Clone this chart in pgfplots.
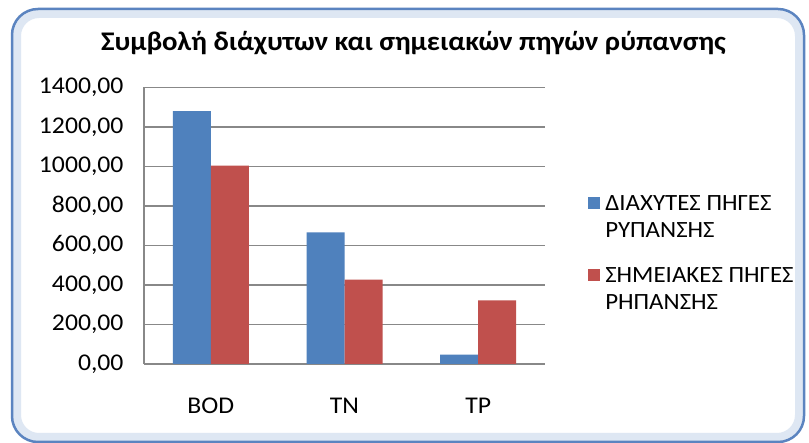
\documentclass[border=0pt]{standalone}
\usepackage{fontspec}
\setmainfont{Carlito}[FakeStretch=1.07]
\usepackage{pgfplots}
\pgfplotsset{compat=1.18}
\definecolor{barblue}{HTML}{4F81BD}
\definecolor{barred}{HTML}{C0504D}
\definecolor{gridgray}{HTML}{888888}
\definecolor{frameblue}{HTML}{5B84C0}

\begin{document}
\begin{tikzpicture}
\useasboundingbox (0,0) rectangle (809bp,443bp);
\fill[white] (0,0) rectangle (809bp,443bp);
% chart frame with a soft inner shadow
\draw[frameblue!20, line width=8bp, rounded corners=22bp] (17bp,6bp) rectangle (799bp,429bp);
\draw[frameblue, line width=2.5bp, rounded corners=26bp] (12bp,1bp) rectangle (804bp,434bp);
\begin{axis}[
  at={(144bp,79bp)}, anchor=south west,
  scale only axis, width=401bp, height=276.7bp,
  ybar=0pt, bar width=38bp,
  xmin=-0.5, xmax=2.5, ymin=0, ymax=1400,
  xtick=data, xticklabels={BOD,TN,TP},
  ytick={0,200,...,1400},
  major tick length=0pt,
  axis x line*=bottom, axis y line*=left,
  axis line style={gridgray, line width=2bp, -},
  ymajorgrids, grid style={gridgray, line width=1.4bp},
  yticklabel={\pgfmathprintnumber[fixed,fixed zerofill,precision=2,use comma,1000 sep={},assume math mode=true]{\tick}},
  tick label style={font=\fontsize{24bp}{28bp}\selectfont},
  yticklabel style={xshift=-17bp},
  xticklabel style={anchor=base, yshift=-49bp},
  title={Συμβολή διάχυτων και σημειακών πηγών ρύπανσης},
  title style={at={(axis description cs:0.672,1.138)}, anchor=center,
    font=\bfseries\fontsize{26.9bp}{30bp}\selectfont},
  legend style={at={(axis description cs:1.1,0.624)}, anchor=north west,
    draw=none, fill=none, row sep=24bp, column sep=3bp,
    font=\fontsize{23.3bp}{27.5bp}\selectfont,
    cells={align=left}},
  legend cell align=left,
  leg/.style={legend image code/.code={\fill[##1] (0bp,8bp) rectangle (12bp,20bp);}},
]
\addplot[fill=barblue, draw=none, leg] coordinates {(0,1279) (1,666) (2,47)};
\addplot[fill=barred, draw=none, leg] coordinates {(0,1004) (1,427) (2,322)};
\addlegendentry{ΔΙΑΧΥΤΕΣ ΠΗΓΕΣ\\ΡΥΠΑΝΣΗΣ}
\addlegendentry{ΣΗΜΕΙΑΚΕΣ ΠΗΓΕΣ\\ΡΗΠΑΝΣΗΣ}
\end{axis}
\end{tikzpicture}
\end{document}
